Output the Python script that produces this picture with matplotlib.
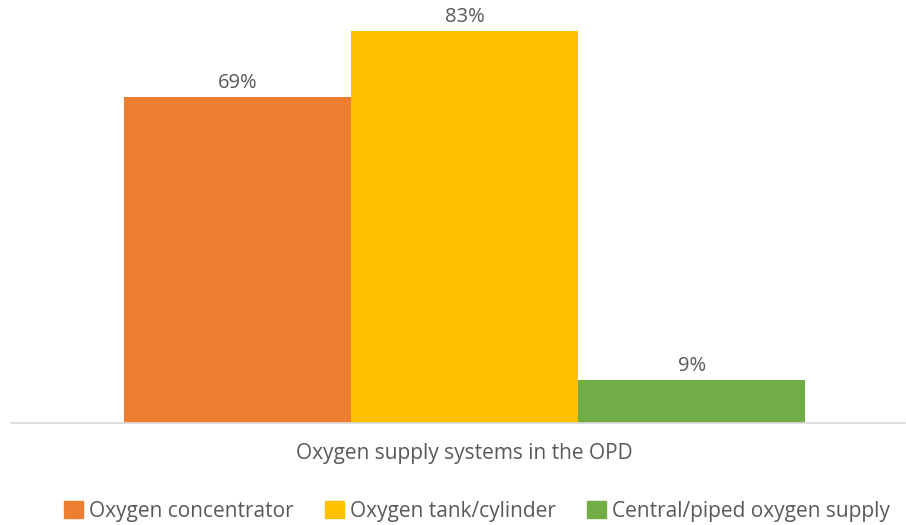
import matplotlib.pyplot as plt
from matplotlib.patches import Patch

plt.rcParams['font.family'] = ['Open Sans', 'DejaVu Sans']

# data
categories = ['Oxygen concentrator', 'Oxygen tank/cylinder', 'Central/piped oxygen supply']
values = [69, 83, 9]
colors = ['#ED7D31', '#FFC000', '#70AD47']
xlabel = 'Oxygen supply systems in the OPD'

fig = plt.figure(figsize=(9.06, 5.25), dpi=100)
ax = fig.add_axes([11 / 906, 102 / 525, 894 / 906, 418 / 525])

xs = [-1, 0, 1]
bars = ax.bar(xs, values, width=1.0, color=colors)
for b, v in zip(bars, values):
    ax.text(b.get_x() + b.get_width() / 2, v + 0.9, f'{v}%', ha='center', va='bottom',
            fontsize=14.5, color='#595959')

ax.set_xlim(-2.0, 1.94)
ax.set_ylim(0, 88.5)
ax.set_xticks([])
ax.set_yticks([])
for s in ['top', 'right', 'left']:
    ax.spines[s].set_visible(False)
ax.spines['bottom'].set_color('#D9D9D9')
ax.spines['bottom'].set_linewidth(1.2)

fig.text(464 / 906, 1 - 454 / 525, xlabel, ha='center', va='center', fontsize=15, color='#595959')

handles = [Patch(color=c, label=l) for c, l in zip(colors, categories)]
fig.legend(handles=handles, loc='center', bbox_to_anchor=(477 / 906, 1 - 511 / 525), ncol=3,
           frameon=False, fontsize=15, labelcolor='#595959', handlelength=0.9, handleheight=0.9,
           handletextpad=0.3, columnspacing=1.5)

plt.savefig('out.png', dpi=100)
plt.close()
